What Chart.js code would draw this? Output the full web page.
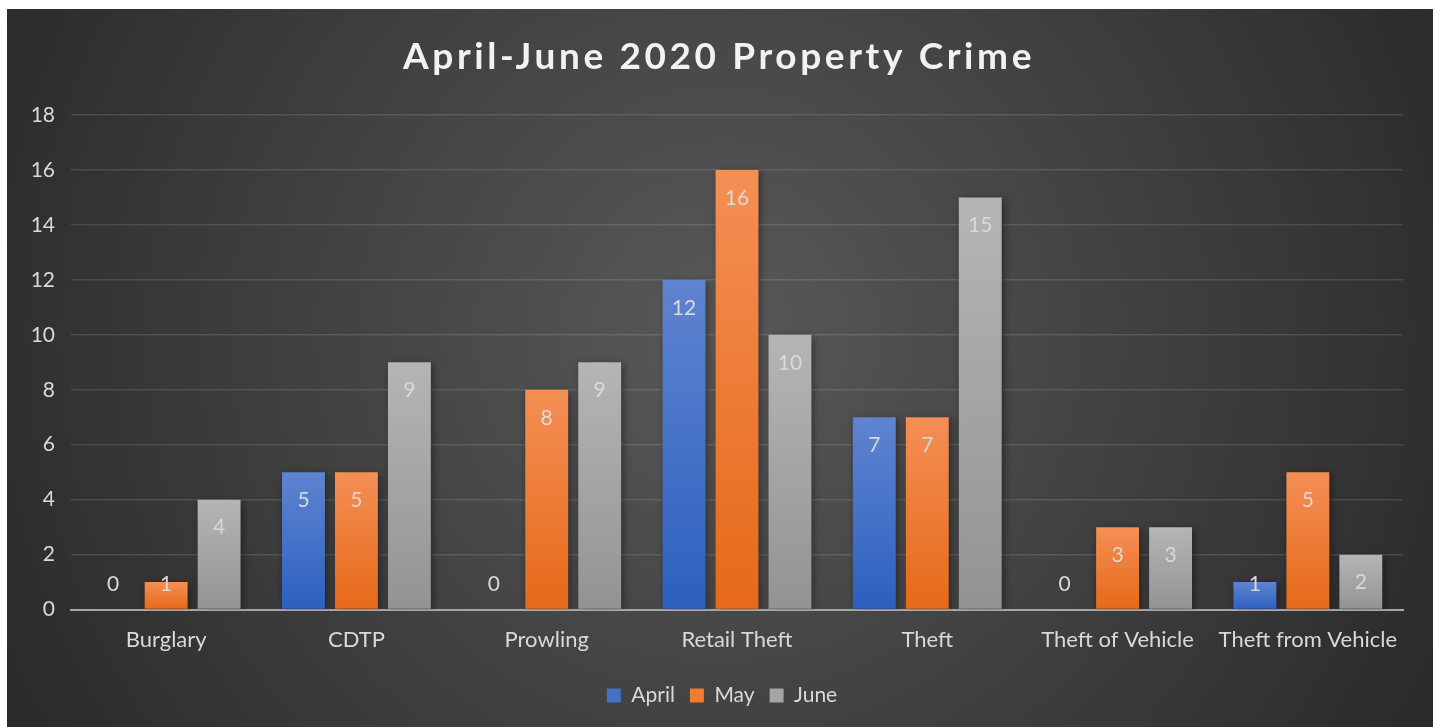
<!DOCTYPE html>
<html>
<head>
<meta charset="utf-8">
<script src="https://cdn.jsdelivr.net/npm/chart.js@4"></script>
<style>
  html, body { margin: 0; padding: 0; background: #ffffff; }
  #wrap { position: absolute; left: 7px; top: 9px; width: 1426px; height: 718px; }
</style>
</head>
<body>
<div id="wrap"><canvas id="mycan1"></canvas></div>
<script>
var categories = ['Burglary', 'CDTP', 'Prowling', 'Retail Theft', 'Theft', 'Theft of Vehicle', 'Theft from Vehicle'];
var april = [0, 5, 0, 12, 7, 0, 1];
var may = [1, 5, 8, 16, 7, 3, 5];
var june = [4, 9, 9, 10, 15, 3, 2];
var yTicks = [0, 2, 4, 6, 8, 10, 12, 14, 16, 18];
var titleText = 'April-June 2020 Property Crime';

var FONT = 'Lato, "Open Sans", sans-serif';

// top / bottom colours for each series, plus the flat legend colour
var shades = {
  April: ['#5f84d0', '#2c60bf', '#4472c4'],
  May: ['#f48f55', '#e66918', '#ed7d31'],
  June: ['#b5b5b5', '#939393', '#a5a5a5']
};

function barFill(name) {
  return function(ctx) {
    var c = ctx.chart;
    if (!c.chartArea || ctx.raw === undefined) return shades[name][1];
    var y = c.scales.y;
    var top = y.getPixelForValue(ctx.raw);
    var bot = y.getPixelForValue(0);
    if (bot - top < 1) return shades[name][1];
    var g = c.ctx.createLinearGradient(0, top, 0, bot);
    g.addColorStop(0, shades[name][0]);
    g.addColorStop(1, shades[name][1]);
    return g;
  };
}

var bgPlugin = {
  id: 'bgPlugin',
  afterLayout: function(chart) {
    // legend is centred on the whole panel, not the padded area
    if (chart.legend) {
      chart.legend.left += 17;
      chart.legend.right += 17;
    }
  },
  beforeDraw: function(chart) {
    var ctx = chart.ctx, w = chart.width, h = chart.height;
    ctx.save();
    var g = ctx.createRadialGradient(w * 0.5, h * 0.45, 0, w * 0.5, h * 0.45, w * 0.62);
    g.addColorStop(0, '#595959');
    g.addColorStop(1, '#252525');
    ctx.fillStyle = g;
    ctx.fillRect(0, 0, w, h);
    // title
    ctx.fillStyle = '#f2f2f2';
    ctx.font = 'bold 37px ' + FONT;
    ctx.textAlign = 'center';
    ctx.textBaseline = 'middle';
    if ('letterSpacing' in ctx) ctx.letterSpacing = '3.6px';
    ctx.fillText(titleText, w / 2 - 1, 48);
    ctx.restore();
  },
  beforeDatasetsDraw: function(chart) {
    var ctx = chart.ctx;
    ctx.save();
    ctx.shadowColor = 'rgba(0,0,0,0.45)';
    ctx.shadowBlur = 8;
    ctx.shadowOffsetX = 2;
    ctx.shadowOffsetY = 2;
  },
  afterDatasetsDraw: function(chart) {
    var ctx = chart.ctx;
    ctx.restore();
    // value labels
    ctx.save();
    ctx.fillStyle = '#d9d9d9';
    ctx.font = '21px ' + FONT;
    ctx.textAlign = 'center';
    ctx.textBaseline = 'middle';
    chart.data.datasets.forEach(function(ds, i) {
      var meta = chart.getDatasetMeta(i);
      meta.data.forEach(function(bar, j) {
        var v = ds.data[j];
        var y = Math.min(bar.y + 28, bar.base - 25);
        ctx.fillText(String(v), bar.x, y);
      });
    });
    ctx.restore();
  }
};

var chartdata = {
  labels: categories,
  datasets: [
    { label: 'April', data: april, backgroundColor: barFill('April') },
    { label: 'May', data: may, backgroundColor: barFill('May') },
    { label: 'June', data: june, backgroundColor: barFill('June') }
  ]
};

var ctx = document.getElementById('mycan1');
var bargraph = new Chart(ctx, {
  type: 'bar',
  data: chartdata,
  plugins: [bgPlugin],
  options: {
    responsive: true,
    maintainAspectRatio: false,
    animation: false,
    datasets: { bar: { categoryPercentage: 0.835, barPercentage: 0.81 } },
    layout: { padding: { top: 106, right: 30, bottom: 11, left: 0 } },
    plugins: {
      title: { display: false },
      tooltip: { enabled: false },
      legend: {
        position: 'bottom',
        labels: {
          color: '#d9d9d9',
          font: { family: FONT, size: 21 },
          boxWidth: 14,
          boxHeight: 14,
          padding: 15,
          generateLabels: function(chart) {
            return chart.data.datasets.map(function(ds, i) {
              return {
                text: ds.label,
                fillStyle: shades[ds.label][2],
                strokeStyle: 'rgba(0,0,0,0)',
                lineWidth: 0,
                fontColor: '#d9d9d9',
                datasetIndex: i
              };
            });
          }
        }
      }
    },
    scales: {
      x: {
        grid: { display: false, drawTicks: false },
        border: { color: '#a6a6a6', width: 2 },
        ticks: { color: '#d9d9d9', font: { family: FONT, size: 22 }, padding: 17, maxRotation: 0 }
      },
      y: {
        min: 0,
        max: 18,
        afterBuildTicks: function(scale) {
          scale.ticks = yTicks.map(function(v) { return { value: v }; });
        },
        afterFit: function(scale) { scale.width = 64; },
        grid: { color: 'rgba(255,255,255,0.12)', lineWidth: 1.5, drawTicks: false },
        border: { display: false },
        ticks: { color: '#d9d9d9', font: { family: FONT, size: 21 }, padding: 16 }
      }
    }
  }
});
</script>
</body>
</html>
